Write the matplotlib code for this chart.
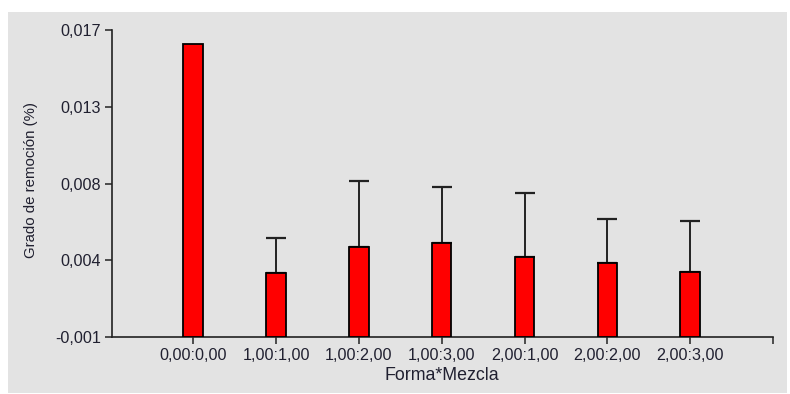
import numpy as np
import matplotlib
matplotlib.use('Agg')
import matplotlib.pyplot as plt
from matplotlib.patches import Rectangle

plt.rcParams['font.family'] = ['Liberation Sans', 'DejaVu Sans']

categorias = ['0,00:0,00', '1,00:1,00', '1,00:2,00', '1,00:3,00',
              '2,00:1,00', '2,00:2,00', '2,00:3,00']
medias = [0.0162, 0.00273, 0.00429, 0.00453, 0.00371, 0.00334, 0.00281]
limite_sup = [np.nan, 0.0048, 0.00814, 0.00777, 0.00742, 0.00592, 0.00578]

y_ticks = [-0.001, 0.0035, 0.008, 0.0125, 0.017]
y_labels = ['-0,001', '0,004', '0,008', '0,013', '0,017']

ymin, ymax = -0.001, 0.017
txt_col = '#202030'

fig = plt.figure(figsize=(7.9, 3.94), dpi=100)
fig.patch.set_facecolor('white')
# grey panel behind the chart
fig.patches.append(Rectangle((8 / 790, 1 / 394), 779 / 790, 381 / 394,
                             transform=fig.transFigure, facecolor='#e3e3e3',
                             edgecolor='none', zorder=-5))

ax = fig.add_axes([112 / 790, 57 / 394, 661 / 790, 307 / 394])
ax.set_facecolor('none')

x = np.arange(len(categorias))
med = np.array(medias)
ax.bar(x, med - ymin, bottom=ymin, width=0.235, color='#ff0000',
       edgecolor='black', linewidth=1.3, zorder=3)

sup = np.array(limite_sup)
ok = ~np.isnan(sup)
ax.errorbar(x[ok], med[ok], yerr=[np.zeros(ok.sum()), sup[ok] - med[ok]],
            fmt='none', ecolor='#222222', elinewidth=1.4, capsize=7.2,
            capthick=1.6, zorder=2)

ax.set_ylim(ymin, ymax)
ax.set_xlim(-0.98, 7.0)
ax.set_yticks(y_ticks)
ax.set_yticklabels(y_labels)
ax.set_xticks(list(x) + [7])
ax.set_xticklabels(categorias + [''])

for s in ['top', 'right']:
    ax.spines[s].set_visible(False)
for s in ['left', 'bottom']:
    ax.spines[s].set_linewidth(1.2)
    ax.spines[s].set_color('#222222')

ax.tick_params(axis='both', direction='out', length=5, width=1.1,
               color='#222222', labelsize=11.6, labelcolor=txt_col, pad=3)

ax.set_xlabel('Forma*Mezcla', fontsize=12.8, color=txt_col, va='center')
ax.xaxis.set_label_coords(0.499, -0.126)
ax.set_ylabel('Grado de remoción (%)', fontsize=10.8, color=txt_col, va='center')
ax.yaxis.set_label_coords(-0.1225, 0.511)

fig.savefig('out.png', dpi=100)
